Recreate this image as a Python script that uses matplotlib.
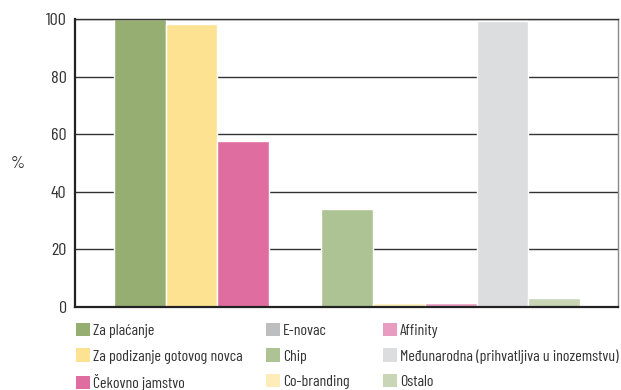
import matplotlib
matplotlib.use("Agg")
import matplotlib.pyplot as plt
from matplotlib.patches import Patch
import logging
logging.getLogger('matplotlib.font_manager').setLevel(logging.ERROR)

plt.rcParams['font.family'] = ['Barlow Condensed', 'Roboto Condensed', 'Archivo Narrow',
                               'PT Sans Narrow', 'DejaVu Sans']

categories = ["Za plaćanje", "Za podizanje gotovog novca", "Čekovno jamstvo",
              "E-novac", "Chip", "Co-branding",
              "Affinity", "Međunarodna (prihvatljiva u inozemstvu)", "Ostalo"]
values = [100, 98.3, 57.6, 0, 33.9, 1.2, 1.2, 99.3, 3.0]
colors = ["#97AE72", "#FDE391", "#E06DA0", "#BDBEC0", "#ADC394", "#FEEDB8",
          "#E89DC0", "#DCDDDF", "#C8D6B5"]
yticks = [0, 20, 40, 60, 80, 100]

fig = plt.figure(figsize=(6.21, 3.9), dpi=100)
ax = fig.add_axes([75/621, 1-306.7/390, (618-75)/621, (306.7-19)/390])

x = list(range(len(categories)))
ax.bar(x, values, width=1.0, color=colors, edgecolor="white", linewidth=1.0, zorder=2)

ax.set_xlim(-1.25, 9.23)
ax.set_ylim(0, 100)
ax.set_yticks(yticks)
ax.set_xticks([])
ax.yaxis.grid(True, color="#333333", linewidth=1.0, zorder=0)
ax.set_axisbelow(True)
ax.tick_params(axis='y', length=0, pad=6, labelsize=13, colors="#333333")
for s in ["left", "bottom"]:
    ax.spines[s].set_linewidth(1.6)
    ax.spines[s].set_color("#222222")
    ax.spines[s].set_zorder(3)
ax.spines["top"].set_linewidth(1.0)
ax.spines["top"].set_color("#333333")
ax.spines["right"].set_linewidth(1.0)
ax.spines["right"].set_color("#888888")

fig.text(18/621, 1-163/390, "%", fontsize=13, color="#333333", ha="center", va="center")

handles = [Patch(facecolor=c, edgecolor="none", label=l) for c, l in zip(colors, categories)]
col_x = [76, 266, 383]
for i, cx in enumerate(col_x):
    fig.legend(handles=handles[3*i:3*i+3], ncol=1, loc="upper left",
               bbox_to_anchor=(cx/621, 1-323/390),
               frameon=False, fontsize=11.5, handlelength=0.875, handleheight=0.9,
               handletextpad=0.2, labelspacing=0.64, borderaxespad=0, borderpad=0,
               labelcolor="#333333")

fig.savefig("out.png", dpi=100)
